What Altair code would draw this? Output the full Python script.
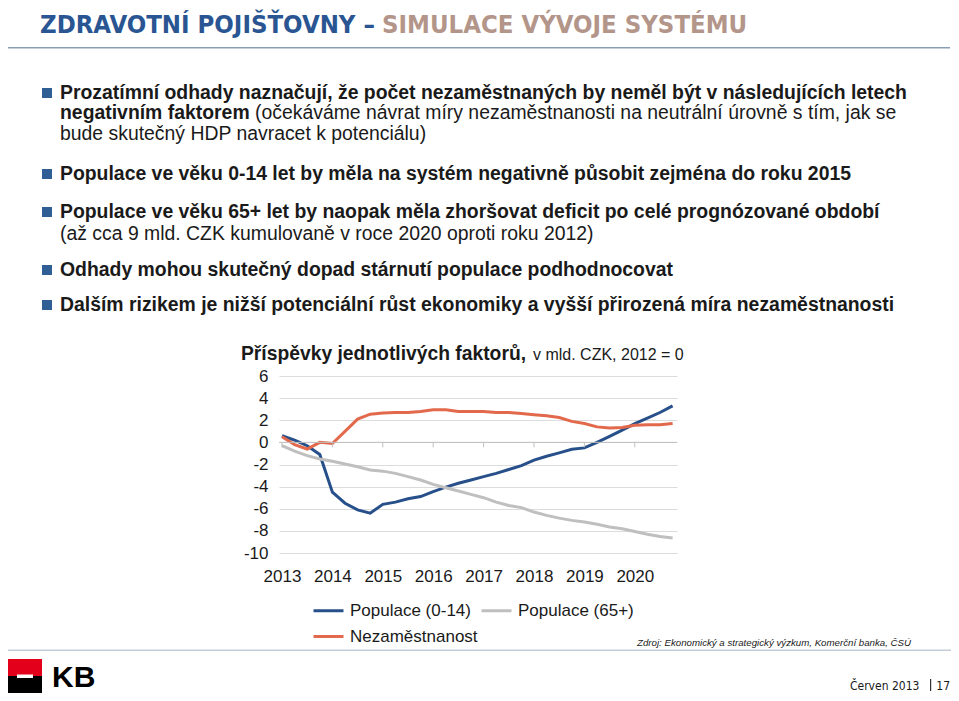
import altair as alt
import pandas as pd

# ---------------- data ----------------
quarters = [2013 + i / 4 for i in range(32)]
pop_0_14 = [0.6, 0.2, -0.3, -1.1, -4.5, -5.5, -6.1, -6.4, -5.6, -5.4, -5.1, -4.9,
            -4.45, -4.05, -3.7, -3.4, -3.1, -2.8, -2.45, -2.1, -1.6, -1.25, -0.95, -0.63,
            -0.5, 0.0, 0.55, 1.1, 1.7, 2.2, 2.7, 3.3]
pop_65 = [-0.3, -0.8, -1.2, -1.5, -1.7, -1.95, -2.2, -2.5, -2.6, -2.8, -3.1, -3.4,
          -3.8, -4.1, -4.4, -4.7, -5.0, -5.4, -5.7, -5.9, -6.3, -6.6, -6.85, -7.05,
          -7.2, -7.4, -7.65, -7.8, -8.05, -8.3, -8.5, -8.65]
unemployment = [0.5, -0.2, -0.6, 0.0, -0.1, 1.0, 2.1, 2.55, 2.65, 2.7, 2.7, 2.8,
                2.95, 2.95, 2.8, 2.8, 2.8, 2.7, 2.7, 2.6, 2.5, 2.4, 2.25, 1.9,
                1.7, 1.4, 1.3, 1.35, 1.55, 1.6, 1.6, 1.7]
series_names = ["Populace (0-14)", "Populace (65+)", "Nezaměstnanost"]
series_colors = ["#27508A", "#BFBFBF", "#E2694C"]
year_ticks = [2013, 2014, 2015, 2016, 2017, 2018, 2019, 2020]
y_ticks = [-10, -8, -6, -4, -2, 0, 2, 4, 6]

title_blue = "ZDRAVOTNÍ POJIŠŤOVNY –"
title_brown = "SIMULACE VÝVOJE SYSTÉMU"
bullet_lines_bold = [
    "Prozatímní odhady naznačují, že počet nezaměstnaných by neměl být v následujících letech",
    "negativním faktorem",
    "Populace ve věku 0-14 let by měla na systém negativně působit zejména do roku 2015",
    "Populace ve věku 65+ let by naopak měla zhoršovat deficit po celé prognózované období",
    "Odhady mohou skutečný dopad stárnutí populace podhodnocovat",
    "Dalším rizikem je nižší potenciální růst ekonomiky a vyšší přirozená míra nezaměstnanosti",
]
bullet_lines_regular = [
    "(očekáváme návrat míry nezaměstnanosti na neutrální úrovně s tím, jak se",
    "bude skutečný HDP navracet k potenciálu)",
    "(až cca 9 mld. CZK kumulovaně v roce 2020 oproti roku 2012)",
]
chart_title_bold = "Příspěvky jednotlivých faktorů,"
chart_title_regular = "v mld. CZK, 2012 = 0"
source_text = "Zdroj: Ekonomický a strategický výzkum, Komerční banka, ČSÚ"
footer_text = "Červen 2013"
page_no = "17"

# ---------------- layout ----------------
OX, OY = 279, 376          # plot origin on page
PW, PH = 398, 177          # plot size
PX_PER_YEAR = 50.4
x0 = 2013 - 3 / PX_PER_YEAR
x1 = x0 + PW / PX_PER_YEAR
FONT = "Liberation Sans, Arial, sans-serif"
NARROW = "Liberation Sans Narrow, Arial Narrow, DejaVu Sans Condensed, sans-serif"
TXT = "#1a1a1a"
BODY = 19.4

rows = []
for name, vals in zip(series_names, [pop_0_14, pop_65, unemployment]):
    for t, v in zip(quarters, vals):
        rows.append({"t": t, "v": v, "s": name})
df_lines = pd.DataFrame(rows)

xs = alt.Scale(domain=[x0, x1], nice=False, zero=False)
ys = alt.Scale(domain=[-10, 6], nice=False, zero=False)
x_axis = alt.Axis(
    values=year_ticks, labelExpr="'' + datum.value", title=None, grid=False,
    domain=False, ticks=False, labelFontSize=17, labelFont=FONT, labelColor=TXT,
    labelPadding=15, labelOverlap=False)
y_axis = alt.Axis(
    values=y_ticks, labelExpr="'' + datum.value", title=None, grid=True,
    gridColor="#DCDCDC", domain=False, ticks=False, labelFontSize=17,
    labelFont=FONT, labelColor=TXT, labelPadding=11, labelOverlap=False,
    labelBound=False, labelFlush=False)


def text_layer(items, size, weight="normal", color=TXT, font=FONT, style="normal",
               align="left", baseline="middle"):
    df = pd.DataFrame(items, columns=["px", "py", "txt"])
    df["px"] = df["px"] - OX
    df["py"] = df["py"] - OY
    return alt.Chart(df).mark_text(
        align=align, baseline=baseline, fontSize=size, fontWeight=weight,
        font=font, fontStyle=style, color=color
    ).encode(
        x=alt.X("px:Q", scale=None, axis=None),
        y=alt.Y("py:Q", scale=None, axis=None),
        text="txt:N",
    )


def rect_layer(items):
    df = pd.DataFrame(items, columns=["xa", "xb", "ya", "yb", "c"])
    df["xa"] -= OX
    df["xb"] -= OX
    df["ya"] -= OY
    df["yb"] -= OY
    return alt.Chart(df).mark_rect(strokeWidth=0).encode(
        x=alt.X("xa:Q", scale=None, axis=None), x2="xb:Q",
        y=alt.Y("ya:Q", scale=None, axis=None), y2="yb:Q",
        fill=alt.Fill("c:N", scale=None, legend=None),
    )


lines = alt.Chart(df_lines).mark_line(strokeWidth=3).encode(
    x=alt.X("t:Q", scale=xs, axis=x_axis),
    y=alt.Y("v:Q", scale=ys, axis=y_axis),
    color=alt.Color("s:N", sort=series_names,
                    scale=alt.Scale(domain=series_names, range=series_colors),
                    legend=alt.Legend(title=None, orient="none", legendX=33, legendY=218,
                                      columns=2, direction="horizontal",
                                      symbolType="stroke", symbolSize=900,
                                      symbolStrokeWidth=3, labelFontSize=17,
                                      labelFont=FONT, labelColor=TXT, labelOffset=5,
                                      columnPadding=-3, rowPadding=1)),
    order=alt.Order("t:Q"),
)

zero_rule = alt.Chart(pd.DataFrame({"z": [0]})).mark_rule(color="#BFBFBF", strokeWidth=1).encode(
    y=alt.Y("z:Q", scale=ys, axis=y_axis)
)
tick_df = pd.DataFrame({"t": year_ticks, "a": [0] * 8, "b": [-0.45] * 8})
tick_rules = alt.Chart(tick_df).mark_rule(color="#BFBFBF", strokeWidth=1).encode(
    x=alt.X("t:Q", scale=xs, axis=x_axis), y=alt.Y("a:Q", scale=ys, axis=y_axis), y2="b:Q"
)

# decorations
deco_rects = rect_layer([
    (5, 950, 47, 48.5, "#8A9FB5"),       # title separator
    (0, 951, 649.5, 651, "#C3CDD8"),     # footer separator
    (42, 52, 88, 98, "#2F5F94"),
    (42, 52, 169, 179, "#2F5F94"),
    (42, 52, 207, 217, "#2F5F94"),
    (42, 52, 265, 275, "#2F5F94"),
    (42, 52, 300, 310, "#2F5F94"),
    (8, 42, 659, 676, "#E2001A"),        # KB logo
    (8, 42, 676, 693, "#000000"),
    (17, 33, 674.5, 678, "#FFFFFF"),
    (930, 931.2, 679, 691, "#333333"),   # footer bar
])

layers = [
    lines,
    zero_rule,
    tick_rules,
    deco_rects,
    text_layer([(40, 33, title_blue)], 25.5, font=NARROW, weight="bold", color="#2A5593",
               baseline="alphabetic"),
    text_layer([(382, 33, title_brown)], 25.5, font=NARROW, weight="bold", color="#B3958A",
               baseline="alphabetic"),
    text_layer([(60, 93, bullet_lines_bold[0]), (60, 113, bullet_lines_bold[1]),
                (60, 174, bullet_lines_bold[2]), (60, 212, bullet_lines_bold[3]),
                (60, 270, bullet_lines_bold[4]), (60, 305, bullet_lines_bold[5])],
               BODY, weight="bold"),
    text_layer([(255, 113, bullet_lines_regular[0]), (60, 134, bullet_lines_regular[1]),
                (60, 234, bullet_lines_regular[2])], BODY),
    text_layer([(241, 354, chart_title_bold)], 19.3, weight="bold"),
    text_layer([(533, 355, chart_title_regular)], 16),
    text_layer([(637, 643, source_text)], 9.7, style="italic"),
    text_layer([(52, 693, "KB")], 30, weight="bold", color="#000000", baseline="bottom"),
    text_layer([(850, 690, footer_text)], 12, font=NARROW, baseline="alphabetic"),
    text_layer([(950, 690, page_no)], 12, font=NARROW, baseline="alphabetic", align="right"),
]

chart = alt.layer(*layers).properties(
    width=PW, height=PH,
    autosize=alt.AutoSizeParams(type="none"),
    padding={"left": OX - 8, "top": OY - 8, "right": 943 - (OX - 8) - PW,
             "bottom": 685 - (OY - 8) - PH},
    background="white",
).configure_view(stroke=None)

chart.save("out.html", embed_options={"renderer": "svg", "actions": False})
